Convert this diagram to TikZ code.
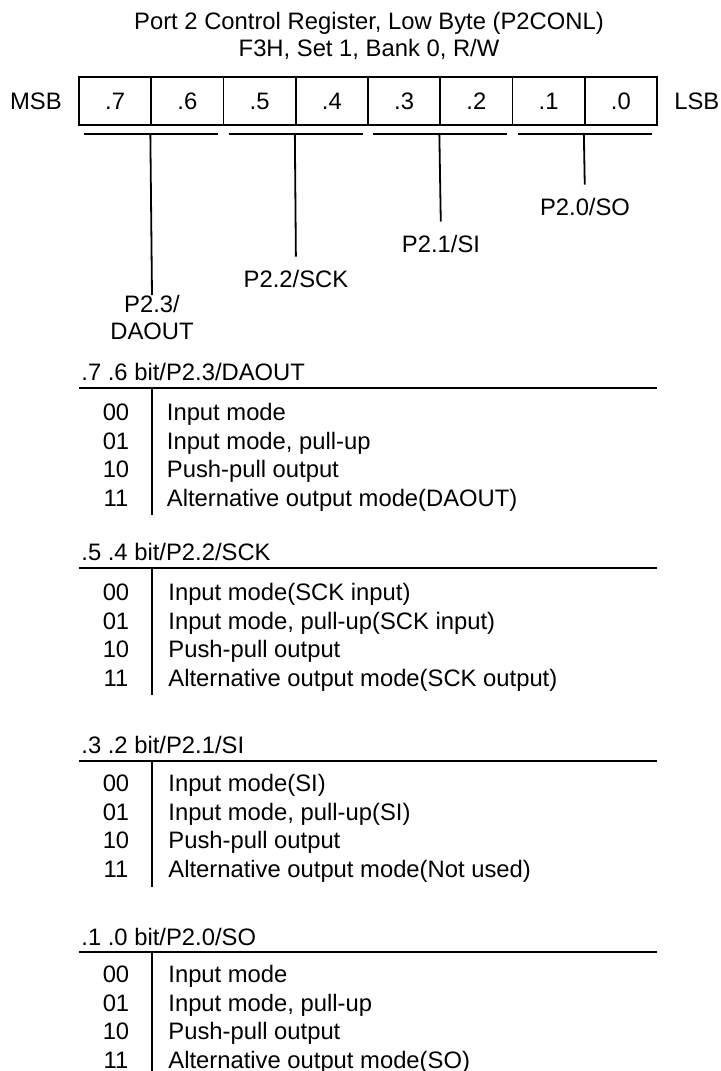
\documentclass[tikz,border=0pt]{standalone}
\usepackage{fontspec}
\setmainfont{Liberation Sans}
\usetikzlibrary{positioning, calc}

\newcommand{\regfont}{\fontsize{11.9}{13.5}\selectfont}

\tikzset{
bitcell/.style={draw, line width=0.9pt, minimum width=36.125pt, minimum height=24pt, inner sep=0pt, text height=8.5pt, text depth=0pt},
regtext/.style={inner sep=0pt, text height=8.5pt, text depth=0pt},
headtext/.style={regtext, anchor=west},
codetext/.style={regtext},
desctext/.style={regtext, anchor=west},
pinlabel/.style={inner sep=0pt, align=center},
rule/.style={line width=0.9pt}
}

\begin{document}
\begin{tikzpicture}[x=0.5pt, y=-0.5pt, font=\regfont]

\useasboundingbox (0,0) rectangle (721,1071);

% -------- Title --------
\node[pinlabel] (title) at (369,36)
{Port 2 Control Register, Low Byte (P2CONL)\\F3H, Set 1, Bank 0, R/W};

% -------- Register bits --------
\foreach \b [count=\k from 0] in {7,...,0}
  \node[bitcell] (b\b) at (79+72.25*\k+36.125,101) {.\b};

\node[regtext, left=8pt of b7] (msb) {MSB};
\node[regtext, right=8pt of b0] (lsb) {LSB};

% -------- Bit groups --------
\foreach \hi/\lo in {7/6, 5/4, 3/2, 1/0}
{
  \coordinate (ga\hi) at ($(b\hi.south west)+(6,8)$);
  \coordinate (gb\hi) at ($(b\lo.south east)+(-6,8)$);
  \coordinate (gm\hi) at ($(b\lo.south west)+(0,8)$);
  \draw[rule] (ga\hi) -- (gb\hi);
}

\node[pinlabel, anchor=north] (p23) at (152,295) {P2.3/\\DAOUT};
\node[regtext] (p22) at (296,279) {P2.2/SCK};
\node[regtext] (p21) at (441,244) {P2.1/SI};
\node[regtext] (p20) at (585,207) {P2.0/SO};

\draw[rule] (gm7) -- (p23.north);
\draw[rule, shorten >=6.75pt] (gm5) -- (p22.north);
\draw[rule, shorten >=6.75pt] (gm3) -- (p21.north);
\draw[rule, shorten >=6.75pt] (gm1) -- (p20.north);

% -------- .7 .6 bit table --------
\node[headtext] (hd76) at (81,372) {.7 .6 bit/P2.3/DAOUT};
\draw[rule] (79,388) -- (657,388);
\draw[rule] (152,388) -- (152,515);
\foreach \code/\desc [count=\i from 0] in {00/Input mode, 01/{Input mode, pull-up}, 10/Push-pull output, 11/Alternative output mode(DAOUT)}
{
  \node[codetext] (c76-\code) at (116,412+28.5*\i) {\code};
  \node[desctext] (d76-\code) at (166.5,412+28.5*\i) {\desc};
}

% -------- .5 .4 bit table --------
\node[headtext] (hd54) at (81,552) {.5 .4 bit/P2.2/SCK};
\draw[rule] (79,568) -- (657,568);
\draw[rule] (152,568) -- (152,695);
\foreach \code/\desc [count=\i from 0] in {00/Input mode(SCK input), 01/{Input mode, pull-up(SCK input)}, 10/Push-pull output, 11/Alternative output mode(SCK output)}
{
  \node[codetext] (c54-\code) at (116,592+28.5*\i) {\code};
  \node[desctext] (d54-\code) at (168,592+28.5*\i) {\desc};
}

% -------- .3 .2 bit table --------
\node[headtext] (hd32) at (81,745) {.3 .2 bit/P2.1/SI};
\draw[rule] (79,761) -- (657,761);
\draw[rule] (152,761) -- (152,887);
\foreach \code/\desc [count=\i from 0] in {00/Input mode(SI), 01/{Input mode, pull-up(SI)}, 10/Push-pull output, 11/Alternative output mode(Not used)}
{
  \node[codetext] (c32-\code) at (116,783+28.5*\i) {\code};
  \node[desctext] (d32-\code) at (168,783+28.5*\i) {\desc};
}

% -------- .1 .0 bit table --------
\node[headtext] (hd10) at (81,937) {.1 .0 bit/P2.0/SO};
\draw[rule] (79,952) -- (657,952);
\draw[rule] (152,952) -- (152,1071);
\foreach \code/\desc [count=\i from 0] in {00/Input mode, 01/{Input mode, pull-up}, 10/Push-pull output, 11/Alternative output mode(SO)}
{
  \node[codetext] (c10-\code) at (116,974+28.5*\i) {\code};
  \node[desctext] (d10-\code) at (168,974+28.5*\i) {\desc};
}

\end{tikzpicture}
\end{document}
